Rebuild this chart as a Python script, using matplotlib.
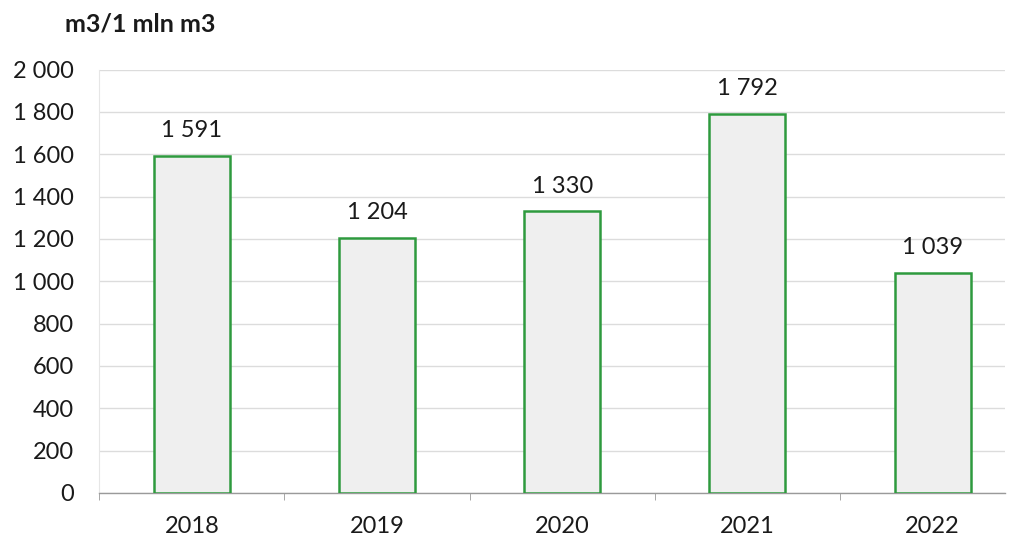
import matplotlib
matplotlib.use("Agg")
import matplotlib.pyplot as plt
from matplotlib.ticker import FuncFormatter, FixedLocator

plt.rcParams['font.family'] = ['Lato', 'DejaVu Sans']

years = ["2018", "2019", "2020", "2021", "2022"]
values = [1591, 1204, 1330, 1792, 1039]
unit_label = "m3/1 mln m3"

def fmt(v, pos=None):
    return f"{int(v):,}".replace(",", " ")

fig = plt.figure(figsize=(10.12, 5.44), dpi=100)
ax = fig.add_axes([0.098, 0.094, 0.895, 0.778])

x = list(range(len(years)))
ax.bar(x, values, width=0.41, color="#efefef", edgecolor="#2e9a3e", linewidth=1.8, zorder=3)
for xi, v in zip(x, values):
    ax.text(xi, v + 70, fmt(v), ha="center", va="bottom", fontsize=17, color="#1a1a1a", zorder=4)

ax.yaxis.set_major_locator(FixedLocator(range(0, 2001, 200)))
ax.yaxis.set_major_formatter(FuncFormatter(fmt))
ax.set_xticks(x)
ax.set_xticklabels(years)
ax.set_xticks([i + 0.5 for i in range(-1, 5)], minor=True)
ax.set_xlim(-0.5, 4.39)
ax.set_ylim(0, 2000)
ax.tick_params(axis="x", which="major", length=0, labelsize=17, pad=17, colors="#1a1a1a")
ax.tick_params(axis="x", which="minor", length=5, color="#999999", direction="out")
ax.tick_params(axis="y", length=0, labelsize=17, pad=18, colors="#1a1a1a")

ax.grid(axis="y", color="#dcdcdc", linewidth=1.0, zorder=0)
for s in ["top", "right"]:
    ax.spines[s].set_visible(False)
ax.spines["left"].set_color("#e6e6e6")
ax.spines["bottom"].set_color("#9a9a9a")
ax.spines["bottom"].set_linewidth(1.0)

fig.text(0.064, 0.955, unit_label, fontsize=18, fontweight="bold", color="#1a1a1a", ha="left", va="center")

fig.savefig("out.png", dpi=100)
